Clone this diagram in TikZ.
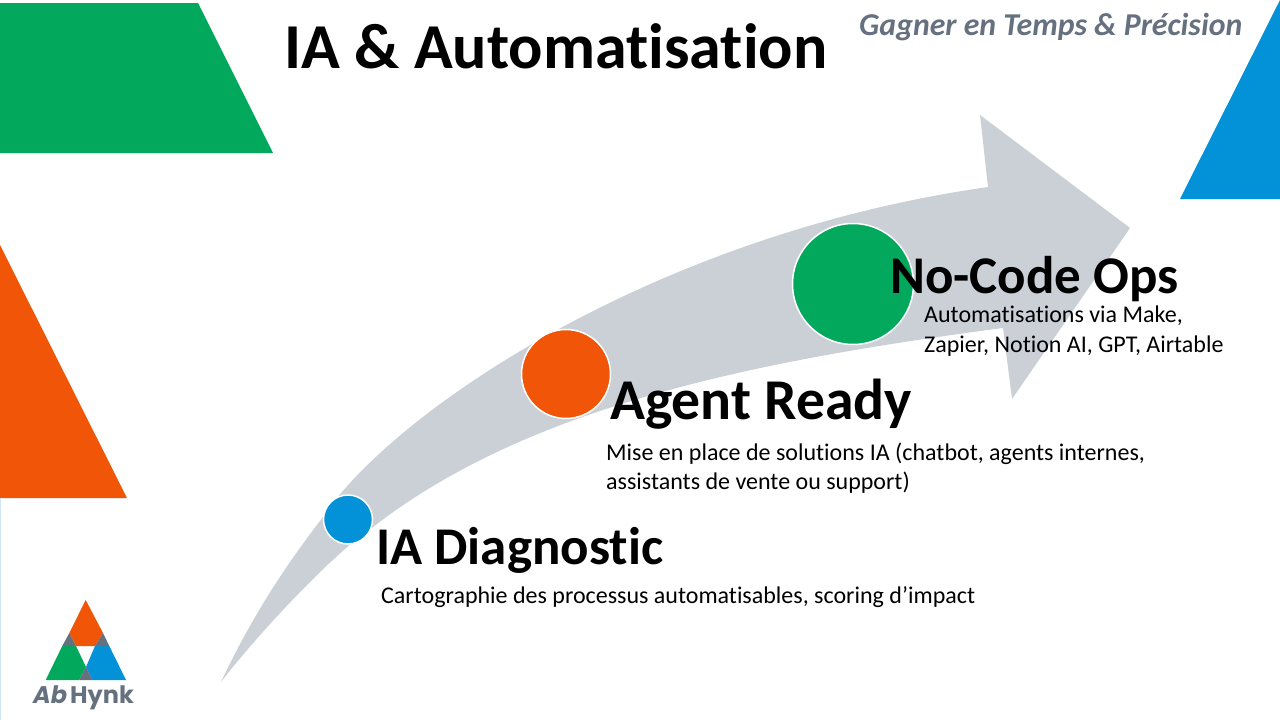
\documentclass[tikz,border=0pt]{standalone}
\usepackage{fontspec}
\setmainfont[Ligatures=NoCommon]{Carlito}
\newfontfamily\logofont{Poppins}
\definecolor{hynkgreen}{HTML}{02A85B}
\definecolor{hynkorange}{HTML}{F15507}
\definecolor{hynkblue}{HTML}{0392D8}
\definecolor{hynkgray}{HTML}{667180}
\definecolor{arrowgray}{HTML}{CBD0D7}
\tikzset{
    headline/.style={anchor=base west, inner sep=0pt, font=\bfseries\fontsize{#1}{#1}\selectfont},
    body/.style={anchor=base west, inner sep=0pt, font=\fontsize{24}{29.5}\selectfont, align=left},
    stepdot/.style={circle, draw=white, line width=1.5pt, inner sep=0pt}
}
\begin{document}
\begin{tikzpicture}[x=1pt, y=-1pt]
            \useasboundingbox (0, 0) rectangle (1280, 720);
            \fill[white] (0, 0) rectangle (1280, 720);
            % corner shapes
            \fill[hynkgreen] (0, 3) -- (198, 3) -- (273, 153) -- (0, 153) -- cycle;
            \fill[hynkorange] (0, 245) -- (127, 498) -- (0, 498) -- cycle;
            \fill[hynkblue] (1280, 0) -- (1280, 199) -- (1180, 199) -- cycle;
            \fill[hynkblue!20] (0, 498) rectangle (1, 720);
            % big arrow
            \fill[arrowgray] (221, 682)
                .. controls (255, 610) and (290, 560) .. (323, 517)
                .. controls (390, 415) and (650, 235) .. (988, 187)
                -- (980, 115) -- (1130, 228) -- (1012, 399) -- (1003, 328)
                .. controls (760, 360) and (530, 405) .. (373, 527)
                .. controls (340, 548) and (265, 625) .. (221, 682) -- cycle;
            \node[stepdot, fill=hynkblue, minimum size=49] (dot1) at (348, 519.5) {};
            \node[stepdot, fill=hynkorange, minimum size=89] (dot2) at (566, 374) {};
            \node[stepdot, fill=hynkgreen, minimum size=121] (dot3) at (853, 284) {};
            % titles
            \node[headline=64] (title) at (284, 68) {IA \& Automatisation};
            \node[anchor=base west, inner sep=0pt, text=hynkgray, font=\bfseries\itshape\fontsize{31.8}{31.8}\selectfont] (subtitle) at (859, 35) {Gagner en Temps \& Précision};
            % steps
            \node[headline=53] (diag) at (376, 564) {IA Diagnostic};
            \node[body] (diagtext) at (381, 603) {Cartographie des processus automatisables, scoring d’impact};
            \node[headline=57.7] (agent) at (610, 419) {Agent Ready};
            \node[body] (agenttext) at (606, 489.5) {Mise en place de solutions IA (chatbot, agents internes,\\assistants de vente ou support)};
            \node[headline=53] (nocode) at (890, 293) {No-Code Ops};
            \node[body] (nocodetext) at (924, 352) {Automatisations via Make,\\Zapier, Notion AI, GPT, Airtable};
            % logo
            \fill[hynkorange] (85.7, 600) -- (103, 633) -- (95, 646) -- (76, 646) -- (69.3, 633) -- cycle;
            \fill[hynkgreen] (62.3, 646) -- (76, 646) -- (86, 667) -- (79.3, 680) -- (45.7, 680) -- cycle;
            \fill[hynkblue] (95, 646) -- (109.3, 646) -- (126, 680) -- (92.3, 680) -- (86, 667) -- cycle;
            \fill[hynkgray] (69.3, 633) -- (76, 646) -- (62.3, 646) -- cycle;
            \fill[hynkgray] (103, 633) -- (109.3, 646) -- (95, 646) -- cycle;
            \fill[hynkgray] (86, 667) -- (92.3, 680) -- (79.3, 680) -- cycle;
            \node[anchor=base west, inner sep=0pt, text=hynkgray, font=\logofont\bfseries\fontsize{24}{24}\selectfont] (logo) at (33, 703) {\textit{Ab}\hspace{3pt}Hynk};
\end{tikzpicture}
\end{document}
